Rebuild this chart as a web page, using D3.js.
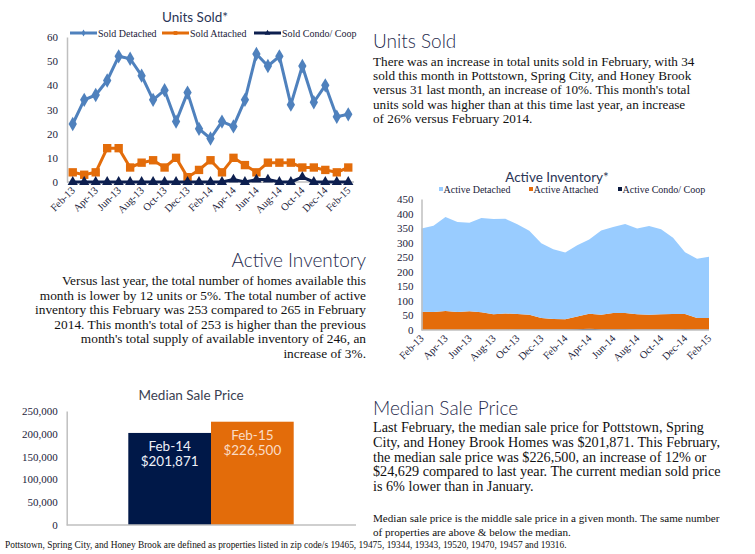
<!DOCTYPE html>
<html>
<head>
<meta charset="utf-8">
<script src="https://cdn.jsdelivr.net/npm/d3@7"></script>
<style>
  body { margin: 0; background: #fff; }
  svg { display: block; }
  .serif { font-family: "Liberation Serif", "DejaVu Serif", serif; }
  .sans { font-family: Lato, "Open Sans", sans-serif; }
</style>
</head>
<body>
<div id="page"></div>
<script>
// ---- data ----
const months = ["Feb-13","Mar-13","Apr-13","May-13","Jun-13","Jul-13","Aug-13","Sep-13","Oct-13","Nov-13","Dec-13","Jan-14",
  "Feb-14","Mar-14","Apr-14","May-14","Jun-14","Jul-14","Aug-14","Sep-14","Oct-14","Nov-14","Dec-14","Jan-15","Feb-15"];
const tickMonths = months.filter((d, i) => i % 2 === 0);

const soldDetached = [24,34,36,42,52,51,44,34,38,25,37,22,18,25,23,34,53,48,52,32,48,33,40,27,28];
const soldAttached = [4,3,4,14,14,6,8,9,6,10,2,5,9,4,10,7,4,8,8,8,6,6,5,4,6];
const soldCondo    = [0,0,0,0,0,0,0,0,0,0,0,0,0,0,1,0,1,1,0,0,2,0,0,0,0];

const activeDetached = [286,296,323,309,304,324,327,325,308,289,257,239,229,245,255,290,296,306,295,305,292,262,212,204,211];
const activeAttached = [63,62,65,62,64,61,53,56,53,50,39,36,35,43,52,49,55,55,52,50,52,53,52,39,39];
const activeCondo    = [0,0,0,0,0,0,1,1,2,2,2,2,2,3,4,3,3,3,2,2,2,2,3,2,2];

const priceLabels = ["Feb-14","Feb-15"];
const priceValues = [201871, 226500];

const unitsText = [
  "There was  an increase in total units sold in February, with 34",
  "sold this month in Pottstown, Spring City, and Honey Brook",
  "versus 31 last month, an increase of 10%. This month's total",
  "units sold was higher than at this time last year, an increase",
  "of 26% versus February 2014."
];
const inventoryText = [
  "Versus last year, the total number of homes available this",
  "month is lower by 12 units or 5%. The total number of active",
  "inventory this February was 253 compared to 265 in February",
  "2014. This month's total of 253 is higher than the previous",
  "month's total supply of available inventory of 246, an",
  "increase of 3%."
];
const priceText = [
  "Last February, the median sale price for Pottstown, Spring",
  "City, and Honey Brook Homes was $201,871. This February,",
  "the median sale price was $226,500, an increase of 12% or",
  "$24,629 compared to last year. The current median sold price",
  "is 6% lower than in January."
];
const noteText = [
  "Median sale price is the middle sale price in a given month.  The same number",
  "of properties are above & below the median."
];
const footText = "Pottstown, Spring City, and Honey Brook are defined as properties listed in zip code/s 19465, 19475, 19344, 19343, 19520, 19470, 19457 and 19316.";

const blue = "#4f81bd", orange = "#e36c0a", navy = "#0d1f4f";
const headColor = "#1f2b4d", axisColor = "#bfbfbf", labelColor = "#1b1b3a";

const svg = d3.select("#page").append("svg")
  .attr("width", 755).attr("height", 554);

// ---- Units Sold chart ----
const x1 = d3.scalePoint().domain(months).range([67, 354]).padding(0.5);
const y1 = d3.scaleLinear().domain([0, 60]).range([182, 37]);

svg.append("text").attr("class", "sans").attr("x", 195).attr("y", 22)
  .attr("text-anchor", "middle").attr("font-size", 13.5)
  .attr("fill", "#2a3556").text("Units Sold*");

const ax1 = svg.append("g").attr("transform", "translate(67,0)")
  .call(d3.axisLeft(y1).tickValues(d3.range(0, 61, 10)).tickSize(0).tickPadding(9));
ax1.select(".domain").attr("stroke", axisColor).attr("stroke-width", 1.5);
ax1.selectAll("text").attr("class", "serif").attr("font-size", 11).attr("fill", labelColor);

svg.append("line").attr("x1", 67).attr("x2", 354).attr("y1", y1(0)).attr("y2", y1(0))
  .attr("stroke", axisColor).attr("stroke-width", 1.5);

svg.selectAll(".xl1").data(tickMonths).enter().append("text")
  .attr("class", "serif")
  .attr("font-size", 10.5).attr("fill", labelColor).attr("text-anchor", "end")
  .attr("transform", d => `translate(${x1(d) + 3},${y1(0) + 9}) rotate(-45)`)
  .text(d => d);

const line1 = d3.line().x((d, i) => x1(months[i])).y(d => y1(d));
const seriesSold = [
  { name: "Sold Detached", values: soldDetached, color: blue, symbol: d3.symbolDiamond, size: 60 },
  { name: "Sold Attached", values: soldAttached, color: orange, symbol: d3.symbolSquare, size: 70 },
  { name: "Sold Condo/ Coop", values: soldCondo, color: navy, symbol: d3.symbolTriangle, size: 45 }
];
seriesSold.forEach(s => {
  svg.append("path").datum(s.values)
    .attr("fill", "none").attr("stroke", s.color).attr("stroke-width", 3)
    .attr("stroke-linejoin", "round").attr("d", line1);
  svg.selectAll(null).data(s.values).enter().append("path")
    .attr("d", d3.symbol().type(s.symbol).size(s.size))
    .attr("transform", (d, i) => `translate(${x1(months[i])},${y1(d)})`)
    .attr("fill", s.color);
});

// legend
const leg1X = [70, 162, 254];
seriesSold.forEach((s, i) => {
  const g = svg.append("g").attr("transform", `translate(${leg1X[i]},33)`);
  g.append("line").attr("x1", 0).attr("x2", 27).attr("stroke", s.color).attr("stroke-width", 3);
  g.append("path").attr("d", d3.symbol().type(s.symbol).size(14))
    .attr("transform", "translate(13.5,0)").attr("fill", s.color);
  g.append("text").attr("class", "serif").attr("x", 28).attr("y", 3.5)
    .attr("font-size", 10).attr("fill", labelColor).text(s.name);
});

// ---- Active Inventory chart ----
const x2 = d3.scalePoint().domain(months).range([421.5, 709]);
const y2 = d3.scaleLinear().domain([0, 450]).range([330, 199]);

svg.append("text").attr("class", "sans").attr("x", 557).attr("y", 182)
  .attr("text-anchor", "middle").attr("font-size", 13.5)
  .attr("fill", "#2a3556").text("Active Inventory*");

const invRows = months.map((m, i) => ({
  month: m, condo: activeCondo[i], attached: activeAttached[i], detached: activeDetached[i]
}));
const stacked = d3.stack().keys(["condo", "attached", "detached"])(invRows);
const areaColors = { detached: "#99ccff", attached: "#e46c0a", condo: "#0a1a40" };
const area2 = d3.area().x(d => x2(d.data.month)).y0(d => y2(d[0])).y1(d => y2(d[1]));
svg.selectAll(".ar").data(stacked).enter().append("path")
  .attr("fill", d => areaColors[d.key]).attr("d", area2);

const ax2 = svg.append("g").attr("transform", "translate(421.5,0)")
  .call(d3.axisLeft(y2).tickValues(d3.range(0, 451, 50)).tickSize(0).tickPadding(8));
ax2.select(".domain").attr("stroke", axisColor).attr("stroke-width", 1.5);
ax2.selectAll("text").attr("class", "serif").attr("font-size", 11).attr("fill", labelColor);
svg.append("line").attr("x1", 421.5).attr("x2", 709).attr("y1", y2(0)).attr("y2", y2(0))
  .attr("stroke", axisColor).attr("stroke-width", 1.5);

svg.selectAll(".xl2").data(tickMonths).enter().append("text")
  .attr("class", "serif")
  .attr("font-size", 10.5).attr("fill", labelColor).attr("text-anchor", "end")
  .attr("transform", d => `translate(${x2(d) + 3},${y2(0) + 9}) rotate(-45)`)
  .text(d => d);

const leg2 = [
  { name: "Active Detached", color: areaColors.detached, x: 439 },
  { name: "Active Attached", color: areaColors.attached, x: 529 },
  { name: "Active Condo/ Coop", color: areaColors.condo, x: 618 }
];
leg2.forEach(l => {
  svg.append("rect").attr("x", l.x).attr("y", 187).attr("width", 4).attr("height", 4).attr("fill", l.color);
  svg.append("text").attr("class", "serif").attr("x", l.x + 4.5).attr("y", 193)
    .attr("font-size", 10).attr("fill", labelColor).text(l.name);
});

// ---- Median Sale Price chart ----
const x3 = d3.scaleBand().domain(priceLabels).range([128.3, 293.7]);
const y3 = d3.scaleLinear().domain([0, 250000]).range([525, 411]);
const barColors = ["#001848", "#e36c0a"];
const barText = ["#eef1f8", "#fadcc6"];

svg.append("text").attr("class", "sans").attr("x", 191).attr("y", 400)
  .attr("text-anchor", "middle").attr("font-size", 13.5)
  .attr("fill", "#3a4152").text("Median Sale Price");

const ax3 = svg.append("g").attr("transform", "translate(66.7,0)")
  .call(d3.axisLeft(y3).tickValues(d3.range(0, 250001, 50000)).tickSize(0).tickPadding(9)
    .tickFormat(d3.format(",")));
ax3.select(".domain").attr("stroke", axisColor).attr("stroke-width", 1.5);
ax3.selectAll("text").attr("class", "serif").attr("font-size", 11).attr("fill", labelColor);

svg.selectAll(".bar").data(priceValues).enter().append("rect")
  .attr("x", (d, i) => x3(priceLabels[i])).attr("width", x3.bandwidth())
  .attr("y", d => y3(d)).attr("height", d => y3(0) - y3(d))
  .attr("fill", (d, i) => barColors[i]);

svg.append("line").attr("x1", 66.7).attr("x2", 356).attr("y1", y3(0)).attr("y2", y3(0))
  .attr("stroke", axisColor).attr("stroke-width", 1.5);

priceValues.forEach((v, i) => {
  const cx = x3(priceLabels[i]) + x3.bandwidth() / 2;
  const t = svg.append("text").attr("class", "sans").attr("text-anchor", "middle")
    .attr("font-size", 13.5).attr("fill", barText[i]);
  t.append("tspan").attr("x", cx).attr("y", y3(v) + 18).text(priceLabels[i]);
  t.append("tspan").attr("x", cx).attr("y", y3(v) + 33).text(d3.format("$,")(v));
});

// ---- text blocks ----
function heading(x, y, anchor, txt) {
  svg.append("text").attr("class", "sans").attr("x", x).attr("y", y)
    .attr("text-anchor", anchor).attr("font-size", 19).attr("font-weight", 300)
    .attr("fill", headColor).text(txt);
}
function block(lines, x, y0, step, anchor, size) {
  svg.selectAll(null).data(lines).enter().append("text")
    .attr("class", "serif").attr("x", x).attr("y", (d, i) => y0 + i * step)
    .attr("text-anchor", anchor).attr("font-size", size).attr("fill", "#111")
    .text(d => d);
}

heading(373, 48, "start", "Units Sold");
block(unitsText, 373, 66, 14.2, "start", 13.2);

heading(366, 267, "end", "Active Inventory");
block(inventoryText, 366, 285, 14.6, "end", 13.35);

heading(373, 415, "start", "Median Sale Price");
block(priceText, 373, 432, 14.8, "start", 14.2);
block(noteText, 373, 522, 13.7, "start", 11.1);

svg.append("text").attr("class", "serif").attr("x", 5).attr("y", 548)
  .attr("font-size", 9.4).attr("fill", "#111").text(footText);
</script>
</body>
</html>
